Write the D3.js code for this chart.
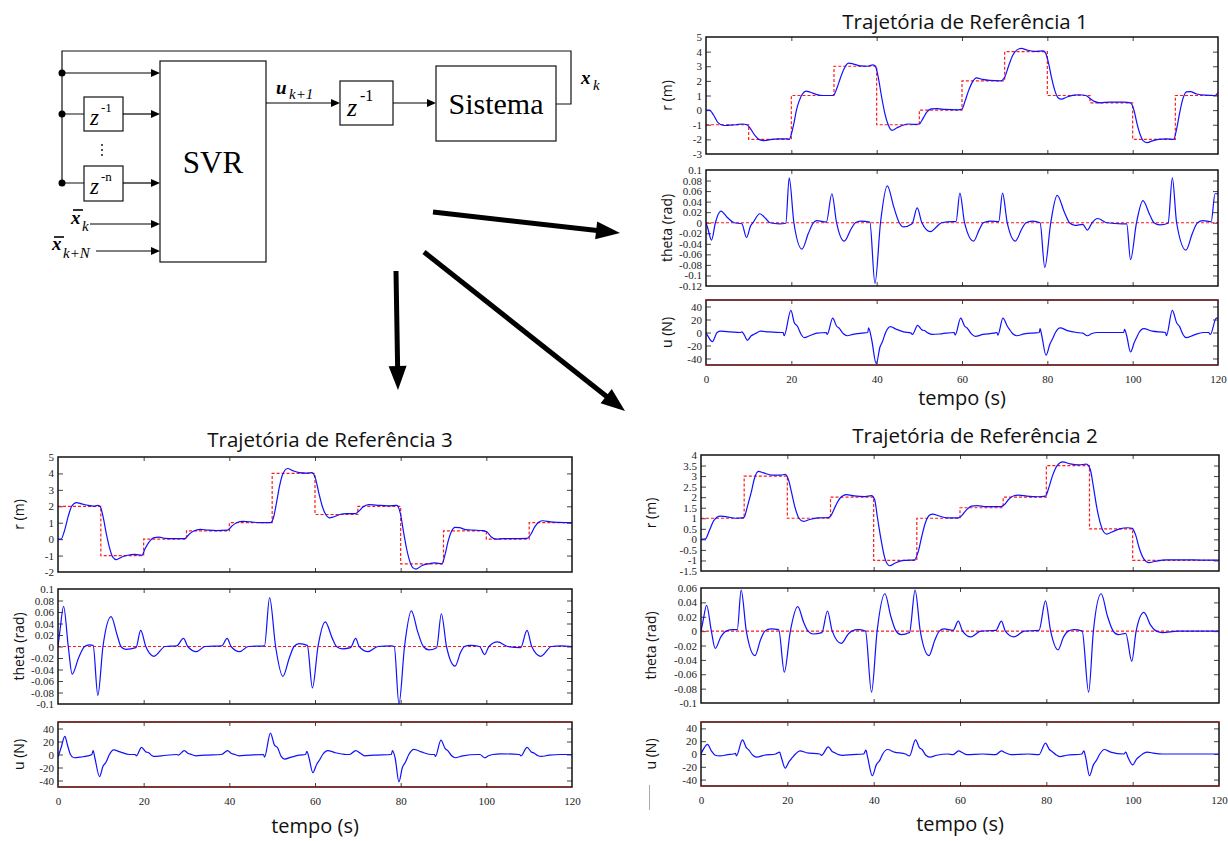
<!DOCTYPE html>
<html lang="pt">
<head>
<meta charset="utf-8">
<title>Trajetórias de Referência - SVR</title>
<script src="https://d3js.org/d3.v7.min.js"></script>
<style>
  body { margin: 0; background: #fff; }
  .tick line { stroke: #444; }
</style>
</head>
<body>
<svg id="fig" width="1228" height="841"></svg>
<script>
// ---------- data ----------
const stepTimes = [0, 10, 20, 30, 40, 50, 60, 70, 80, 90, 100, 110, 120];
const timeTicks = [0, 20, 40, 60, 80, 100, 120];

// reference levels for each 10 s interval (red dashed)
const ref1 = [-1, -2, 1, 3, -1, 0, 2, 4, 1, 0.5, -2, 1];
const ref2 = [1, 3, 1, 2, -1, 1, 1.5, 2, 3.5, 0.5, -1, -1];
const ref3 = [2, -1, 0, 0.5, 1, 4, 1.5, 2, -1.5, 0.5, 0, 1];

// y ticks
const rTicks1 = [-3, -2, -1, 0, 1, 2, 3, 4, 5];
const rTicks2 = [-1.5, -1, -0.5, 0, 0.5, 1, 1.5, 2, 2.5, 3, 3.5, 4];
const rTicks3 = [-2, -1, 0, 1, 2, 3, 4, 5];
const thTicks1 = [-0.12, -0.1, -0.08, -0.06, -0.04, -0.02, 0, 0.02, 0.04, 0.06, 0.08, 0.1];
const thTicks2 = [-0.1, -0.08, -0.06, -0.04, -0.02, 0, 0.02, 0.04, 0.06];
const thTicks3 = [-0.1, -0.08, -0.06, -0.04, -0.02, 0, 0.02, 0.04, 0.06, 0.08, 0.1];
const uTicks = [-40, -20, 0, 20, 40];
const uLimit = 50;

// trajectory 1 (time s, value)
const r1 = [[0,0],[0.8,0],[1.8,-0.35],[2.8,-0.85],[4.2,-1.05],[5.5,-1.03],[7,-1.0],[8.5,-0.95],[9.6,-1.0],[10.5,-1.3],[11.5,-1.75],[12.5,-2.02],[13.7,-2.08],[15,-2.02],[17,-1.97],[19,-1.97],[19.5,-2.0],[20,-1.65],[20.6,-0.9],[21.2,0.0],[21.8,0.6],[22.6,1.1],[23.4,1.3],[24.5,1.22],[26,1.06],[27.5,1.0],[29.5,1.0],[30.1,1.1],[30.8,1.6],[31.5,2.2],[32.3,2.8],[33.4,3.22],[34.6,3.15],[36.2,3.03],[37.8,3.0],[39.1,3.1],[39.7,3.0],[40.4,2.2],[41.1,1.0],[41.9,-0.2],[42.7,-1.0],[43.6,-1.38],[44.7,-1.22],[46,-1.05],[47.5,-0.95],[49,-0.98],[50,-0.95],[50.8,-0.6],[51.7,-0.15],[52.8,0.08],[54.2,0.1],[56,0.05],[59,0.02],[60,0.08],[60.7,0.6],[61.5,1.3],[62.4,1.9],[63.4,2.2],[64.8,2.1],[66.5,2.03],[69,2.0],[70,2.25],[70.9,3.0],[71.9,3.75],[72.9,4.12],[73.9,4.22],[75.3,4.1],[77,4.02],[79,4.05],[79.6,3.9],[80.3,3.2],[81,2.2],[81.8,1.3],[82.5,0.85],[83.3,0.75],[84.6,0.9],[86.2,1.02],[87.5,1.05],[89,1.0],[90,0.8],[91,0.6],[92.5,0.5],[94.5,0.55],[98,0.55],[99.5,0.5],[100.3,0.0],[101,-0.9],[101.8,-1.7],[102.5,-2.1],[103.4,-2.22],[104.6,-2.1],[106,-2.0],[108,-1.97],[109.6,-2.0],[110.3,-1.3],[111,-0.2],[111.8,0.8],[112.6,1.25],[113.5,1.27],[115,1.1],[117,1.02],[119.3,1.0],[120,1.2]];
const th1 = [[0,0],[0.4,-0.01],[1.3,-0.033],[2.2,0.0],[3.5,0.022],[5,0.01],[6.6,0.0],[8.4,-0.002],[9.5,-0.028],[10.5,-0.005],[11,0.0],[12.6,0.017],[14,0.008],[15,0.0],[17.2,-0.002],[18.7,-0.001],[19.5,0.085],[20.6,0.0],[22.5,-0.05],[24,-0.02],[25.2,0.0],[26,0.004],[28.2,0.001],[29.5,0.055],[30.6,0.0],[32.4,-0.035],[34,-0.012],[35,0.0],[36.2,0.003],[38.4,0.001],[39.6,-0.115],[40.9,0.0],[42.5,0.07],[44,0.03],[45.3,0.0],[46.3,-0.008],[48.3,-0.002],[49.5,0.028],[50.6,0.0],[52.6,-0.017],[54,-0.008],[55.2,0.0],[57.8,0.002],[58.6,0.002],[59.5,0.056],[60.6,0.0],[62.7,-0.035],[64,-0.014],[65,0.0],[66.6,0.003],[68.6,0.002],[69.5,0.056],[70.6,0.0],[72.5,-0.035],[74,-0.012],[75,0.0],[76.5,0.003],[78.3,0.0],[79.4,-0.085],[80.8,0.0],[82.3,0.052],[84,0.02],[85.2,0.0],[86.5,-0.005],[88.3,-0.003],[89.4,-0.014],[90.5,0.0],[91.8,0.008],[94,0.0],[97.5,-0.002],[98.6,-0.002],[99.5,-0.07],[100.9,0.0],[102.4,0.042],[104,0.015],[105,0.0],[106.4,-0.004],[108.3,-0.001],[109.3,0.085],[110.3,0.0],[112.5,-0.052],[114,-0.02],[115.2,0.0],[116.5,0.004],[118.4,0.002],[119.3,0.055],[120,0.055]];
const u1 = [[0,0],[0.5,-6],[1.5,-14],[2.6,0],[3.5,2],[5.7,1],[8,0],[8.4,1],[9,-4],[9.7,-12],[10.6,-5],[11.5,-2],[12.8,2],[14.6,1],[17.6,0],[18.1,0],[18.3,-5],[19.9,34],[20.7,15],[21.4,10],[22.3,-3],[23,-8],[24.3,-5],[26,-1],[28.2,0],[28.4,-3],[29.7,22],[30.6,10],[31.3,6],[32.2,-2],[33.1,-5],[34.4,-3],[36.6,-1],[37.9,0],[38.1,7],[38.8,-10],[39.9,-48],[40.8,-22],[41.3,-15],[42.1,0],[43.2,9],[44.6,5],[46.3,1],[48.1,-1],[48.4,-3],[49.6,11],[50.6,4],[51.2,3],[52.1,-1],[53,-3],[55.2,-2],[58.2,0],[58.4,-4],[59.7,22],[60.6,10],[61.2,7],[62.2,-2],[63.1,-6],[64.9,-3],[67.5,-1],[68.2,0],[68.4,-4],[69.6,22],[70.6,10],[71,6],[71.9,-2],[72.8,-5],[74.6,-2],[78.1,0],[78.3,6],[78.7,-5],[79.7,-35],[80.6,-18],[81.2,-10],[81.9,0],[83,7],[84.7,3],[86.9,0],[88.3,-1],[89.4,-5],[90.3,-2],[91.8,0],[97.9,0],[98.1,5],[98.6,-5],[99.5,-30],[100.4,-15],[100.9,-8],[101.5,0],[102.6,6],[104.6,2],[107.7,0],[107.9,-5],[109.3,34],[110.3,15],[111,9],[111.8,-3],[112.5,-8],[114.3,-4],[116.5,0],[117.8,0],[118.2,-3],[119.6,22],[120,22]];

// trajectory 2
const r2 = [[0,0],[1,0.02],[2,0.45],[3,0.9],[4.5,1.1],[6,1.07],[8,1.0],[9.5,1.02],[10,1.05],[10.8,1.6],[11.6,2.2],[12.4,2.9],[13.3,3.22],[14.5,3.15],[16.5,3.05],[18.5,3.05],[19.5,3.08],[20.3,2.8],[21,2.2],[21.8,1.5],[22.7,1.0],[23.7,0.85],[25,0.93],[27,1.02],[29.5,1.03],[30.3,1.2],[31.2,1.6],[32.2,1.95],[33.7,2.12],[35.5,2.06],[38,2.03],[39.5,2.07],[40.2,1.9],[40.9,1.0],[41.7,0.0],[42.6,-0.9],[43.7,-1.25],[45,-1.12],[47,-1.0],[49.5,-0.97],[50.3,-0.6],[51.1,0.1],[52,0.8],[53,1.15],[53.7,1.2],[55,1.12],[57,1.02],[59.7,1.02],[60.5,1.15],[61.5,1.4],[62.7,1.58],[64,1.6],[66,1.55],[69.5,1.55],[70.3,1.65],[71.3,1.9],[72.5,2.07],[73.6,2.1],[75.5,2.05],[78,2.02],[79.8,2.05],[80.5,2.4],[81.4,3.0],[82.5,3.5],[83.8,3.67],[85.5,3.58],[87.5,3.53],[89.3,3.57],[90.2,3.3],[90.9,2.5],[91.7,1.5],[92.6,0.7],[93.3,0.35],[94,0.25],[95.2,0.35],[97,0.5],[98.9,0.55],[99.9,0.52],[100.7,0.2],[101.5,-0.4],[102.5,-0.9],[103.8,-1.1],[105,-1.05],[107.8,-0.97],[112,-0.97],[116,-0.98],[120,-0.98]];
const th2 = [[0,0],[0.5,0.015],[1.3,0.036],[2.4,0],[3.3,-0.024],[4.6,-0.008],[5.8,0],[7.4,0.002],[8.4,0.002],[9.3,0.057],[10.5,0],[12.5,-0.034],[13.8,-0.012],[14.8,0],[16.2,0.003],[18,0.002],[19.3,-0.057],[20.7,0],[22.4,0.034],[23.8,0.012],[24.8,0],[26,-0.004],[28,-0.002],[29.3,0.028],[30.4,0],[32.5,-0.017],[34,-0.005],[34.9,0],[36.4,0.002],[38.1,0],[39.5,-0.085],[40.8,0],[42.6,0.052],[44,0.02],[45.2,0],[46.4,-0.005],[48.3,-0.002],[49.6,0.057],[50.8,0],[52.8,-0.034],[54.2,-0.012],[55.2,0],[56.3,0.003],[58.4,0.001],[59.6,0.014],[60.6,0],[62.5,-0.008],[64.8,0],[68.3,0.001],[69.6,0.014],[70.5,0],[72.5,-0.008],[74.9,0],[78.3,0.001],[79.8,0.042],[81,0],[82.7,-0.026],[84,-0.008],[85.1,0],[86.4,0.002],[88.3,0],[89.8,-0.085],[90.9,0],[92.7,0.052],[94.2,0.02],[95.5,0],[96.7,-0.005],[98.4,-0.003],[99.8,-0.042],[100.8,0],[102.6,0.026],[104.2,0.008],[105.5,0],[106.9,-0.002],[110.4,0],[120,0]];
const u2 = [[0,0],[0.6,8],[1.5,15],[2.4,5],[3.3,-2],[4.4,-3],[6.2,-1],[7.5,0],[8,1],[8.2,-3],[9.6,22],[10.5,10],[11.1,6],[12,-2],[12.9,-5],[14.6,-2],[17.3,0],[18.2,3],[18.6,-5],[19.5,-22],[20.4,-12],[21,-7],[21.9,0],[22.9,5],[24.4,2],[27.5,0],[27.9,-2],[29.5,11],[30.4,4],[31,2],[31.9,-1],[32.8,-2],[35,-1],[37.7,0],[38.2,6],[38.6,-5],[39.7,-34],[40.6,-17],[41.4,-10],[42.1,0],[43.2,7],[44.8,3],[47.4,0],[48.3,-3],[49.7,22],[50.6,10],[51.2,7],[52.1,-2],[53,-5],[54.6,-2],[57.2,0],[58.4,-1],[59.7,5],[60.6,2],[61.6,-1],[65.2,0],[68.3,-1],[69.6,5],[70.5,2],[71.8,-1],[75.8,0],[78.3,-1],[79.8,17],[80.7,7],[81.3,4],[82.2,-1],[83.1,-4],[84.7,-2],[88.2,0],[88.7,5],[89.1,-5],[90,-34],[90.9,-17],[91.6,-10],[92.4,0],[93.4,7],[94.9,3],[98,0],[98.4,3],[98.9,-5],[100,-17],[100.9,-8],[101.6,-4],[102.3,0],[103.3,3],[105.1,1],[106.9,0],[120,0]];

// trajectory 3
const r3 = [[0,0],[0.7,0],[1.5,0.5],[2.4,1.4],[3.2,2.0],[4.3,2.22],[5.5,2.15],[7,2.05],[8.5,2.0],[9.2,2.05],[9.8,2.0],[10.5,1.4],[11.3,0.3],[12,-0.5],[12.8,-1.1],[13.6,-1.25],[14.8,-1.1],[16.3,-0.98],[18,-0.93],[19.6,-0.98],[20.3,-0.6],[21.2,-0.2],[22.3,0.08],[23.6,0.12],[25,0.05],[27,0.03],[29.6,0.03],[30.6,0.3],[31.7,0.5],[33.2,0.6],[35,0.55],[37,0.52],[39.6,0.55],[40.6,0.8],[41.7,1.0],[43.2,1.08],[45,1.05],[47,1.0],[49.6,1.0],[50.3,1.3],[51,2.2],[51.7,3.2],[52.4,3.9],[53.6,4.3],[54.8,4.17],[56.3,4.05],[58,4.02],[59.3,4.05],[60.1,3.7],[60.9,2.8],[61.7,2.0],[62.5,1.5],[63.3,1.3],[64.3,1.35],[65.8,1.5],[67.3,1.55],[69.4,1.55],[70.2,1.7],[71.2,1.95],[72.5,2.1],[74.2,2.07],[77,2.02],[79.1,2.05],[79.9,1.6],[80.7,0.4],[81.4,-0.6],[82.2,-1.4],[82.9,-1.75],[83.6,-1.82],[85,-1.6],[86.5,-1.5],[88,-1.45],[89.6,-1.5],[90.4,-0.9],[91.1,-0.1],[91.9,0.5],[92.7,0.72],[93.7,0.7],[95.2,0.58],[97,0.55],[99.2,0.52],[100.1,0.45],[101.1,0.15],[102.3,0.0],[104,0.03],[106,0.03],[109.5,0.05],[110.4,0.3],[111.3,0.75],[112.3,1.05],[113.2,1.12],[115,1.05],[117,1.02],[120,1.0]];
const th3 = [[0,0],[0.5,0.03],[1.3,0.07],[2.4,0],[3.3,-0.048],[4.8,-0.02],[6.2,0],[7.3,0.003],[8.2,0.002],[9.3,-0.085],[10.5,0],[12.4,0.052],[13.8,0.02],[14.7,0],[15.8,-0.005],[18.2,-0.002],[19.3,0.028],[20.5,0],[22.4,-0.017],[25,0],[27.7,0.001],[29.3,0.014],[30.3,0],[32.3,-0.009],[34.3,0],[38.2,0.001],[39.5,0.014],[40.4,0],[42.4,-0.009],[44.4,0],[48.2,0.001],[49.4,0.085],[50.8,0],[52.5,-0.052],[54,-0.02],[55.1,0],[56.3,0.005],[58.2,0.002],[59.4,-0.072],[60.7,0],[62.4,0.043],[64,0.015],[65,0],[66.4,-0.004],[68.3,-0.002],[69.5,0.014],[70.3,0],[72.4,-0.009],[74.7,0],[77.8,0.001],[78.5,0],[79.6,-0.1],[80.9,0],[82.5,0.062],[84,0.025],[85.3,0],[86.6,-0.006],[88.4,-0.002],[89.5,0.057],[90.7,0],[92.7,-0.034],[94,-0.01],[94.9,0],[96.2,0.002],[98.4,0],[99.6,-0.014],[100.6,0],[102.6,0.008],[105,0],[108,-0.002],[109.5,0.028],[110.6,0],[112.7,-0.017],[115.2,0],[117.4,0.001],[120,0]];
const u3 = [[0,-4],[0.7,10],[1.6,28],[2.2,15],[2.9,0],[3.7,-5],[5.3,-4],[7,-2],[7.9,0],[8.2,6],[8.6,-5],[9.7,-34],[10.5,-18],[11.2,-12],[12,0],[13,7],[14.5,4],[16.7,0],[18,0],[18.3,-2],[19.5,11],[20.5,4],[21.1,3],[21.8,-1],[22.4,-3],[24.2,-2],[27.7,0],[28.1,-1],[29.5,6],[30.3,2],[31.2,0],[32.1,-2],[34.3,-1],[38.2,0],[39.6,6],[40.4,2],[41.3,0],[42.2,-2],[44.4,-1],[48,0],[48.2,-4],[49.6,33],[50.5,15],[51.3,10],[52.1,-3],[52.9,-7],[54.5,-4],[56.3,-1],[57.8,0],[58.1,5],[58.6,-5],[59.5,-28],[60.4,-15],[61.1,-8],[61.8,0],[63,6],[64.6,3],[67.3,0],[68.1,0],[69.5,6],[70.6,2],[71.6,-2],[73.8,-1],[77.8,0],[78.1,6],[78.7,-5],[79.6,-42],[80.4,-20],[81.1,-12],[81.9,0],[83.1,8],[84.8,4],[87,0],[87.9,0],[88.1,-3],[89.4,22],[90.4,9],[91,6],[91.9,-2],[92.7,-5],[94.5,-2],[98,0],[98.5,0],[99.6,-5],[100.5,-2],[101.5,0],[103.3,1],[107.7,0],[108.1,-2],[109.5,11],[110.5,4],[111.2,2],[112.1,-2],[112.8,-3],[114.7,-1],[117.4,0],[120,0]];

// ---------- drawing ----------
const svg = d3.select('#fig');
const defs = svg.append('defs');
let clipCount = 0;
const fmt = v => String(Math.round(v * 1000) / 1000);
const sansFont = '"Open Sans", "Noto Sans", sans-serif';
const serifFont = '"Liberation Serif", "DejaVu Serif", serif';

function stepPoints(levels) {
    const pts = levels.map((v, i) => [stepTimes[i], v]);
    pts.push([stepTimes[stepTimes.length - 1], levels[levels.length - 1]]);
    return pts;
}

function panel(box, yDomain, yTicks, blue, red, redCurve, yLabel, labelX, showTime) {
    const x = d3.scaleLinear().domain([0, 120]).range([box.x0, box.x1]);
    const y = d3.scaleLinear().domain(yDomain).range([box.y1, box.y0]);
    const g = svg.append('g');

    // ticks, gnuplot style (inside, mirrored)
    const left = g.append('g').attr('transform', `translate(${box.x0},0)`)
        .call(d3.axisLeft(y).tickValues(yTicks).tickSizeInner(-5).tickSizeOuter(0).tickPadding(4).tickFormat(fmt));
    const right = g.append('g').attr('transform', `translate(${box.x1},0)`)
        .call(d3.axisRight(y).tickValues(yTicks).tickSizeInner(-5).tickSizeOuter(0).tickFormat(''));
    const bottom = g.append('g').attr('transform', `translate(0,${box.y1})`)
        .call(d3.axisBottom(x).tickValues(timeTicks).tickSizeInner(-4).tickSizeOuter(0).tickPadding(10)
            .tickFormat(showTime ? d3.format('d') : ''));
    const top = g.append('g').attr('transform', `translate(0,${box.y0})`)
        .call(d3.axisTop(x).tickValues(timeTicks).tickSizeInner(-4).tickSizeOuter(0).tickFormat(''));
    [left, right, bottom, top].forEach(a => {
        a.select('.domain').remove();
        a.selectAll('.tick text')
            .style('font-family', serifFont)
            .style('font-size', '11px')
            .attr('fill', '#222');
    });
    // drop ticks lying on the box edge
    [left, right].forEach(a => a.selectAll('.tick line')
        .filter(d => d === yDomain[0] || d === yDomain[1]).remove());
    [bottom, top].forEach(a => a.selectAll('.tick line')
        .filter(d => d === 0 || d === 120).remove());

    const id = 'clip' + (clipCount++);
    defs.append('clipPath').attr('id', id).append('rect')
        .attr('x', box.x0).attr('y', box.y0)
        .attr('width', box.x1 - box.x0).attr('height', box.y1 - box.y0);
    const plot = g.append('g').attr('clip-path', `url(#${id})`);

    const redLine = d3.line().x(d => x(d[0])).y(d => y(d[1])).curve(redCurve);
    red.forEach(series => {
        plot.append('path')
            .datum(series)
            .attr('d', redLine)
            .attr('fill', 'none')
            .attr('stroke', '#ff1a1a')
            .attr('stroke-width', 1.2)
            .attr('stroke-dasharray', '3,2');
    });

    plot.append('path')
        .datum(blue)
        .attr('d', d3.line().x(d => x(d[0])).y(d => y(d[1])).curve(d3.curveMonotoneX))
        .attr('fill', 'none')
        .attr('stroke', '#1010ff')
        .attr('stroke-width', 1.2);

    g.append('rect')
        .attr('x', box.x0).attr('y', box.y0)
        .attr('width', box.x1 - box.x0).attr('height', box.y1 - box.y0)
        .attr('fill', 'none').attr('stroke', '#111').attr('stroke-width', 1.5);

    // actuator limits sit on the box edges
    if (box.limits) {
        box.limits.forEach(v => {
            g.append('line')
                .attr('x1', box.x0).attr('x2', box.x1)
                .attr('y1', y(v)).attr('y2', y(v))
                .attr('stroke', '#e01010').attr('stroke-width', 1.2)
                .attr('stroke-dasharray', '3,2');
        });
    }

    g.append('text')
        .attr('transform', `translate(${labelX},${(box.y0 + box.y1) / 2}) rotate(-90)`)
        .attr('text-anchor', 'middle')
        .attr('dominant-baseline', 'middle')
        .style('font-family', sansFont)
        .style('font-size', '14px')
        .attr('fill', '#111')
        .text(yLabel);
}

function chart(cfg, ref, rTicks, rDom, thTicks, thDom, r, th, u) {
    svg.append('text')
        .attr('x', cfg.titleX).attr('y', cfg.titleY)
        .attr('text-anchor', 'middle')
        .style('font-family', sansFont).style('font-size', '20.5px')
        .attr('fill', '#111')
        .text(cfg.title);

    const x0 = cfg.x0, x1 = cfg.x1;
    panel({x0, x1, y0: cfg.r[0], y1: cfg.r[1]}, rDom, rTicks, r,
        [stepPoints(ref)], d3.curveStepAfter, 'r (m)', cfg.labelX, false);
    panel({x0, x1, y0: cfg.th[0], y1: cfg.th[1]}, thDom, thTicks, th,
        [[[0, 0], [120, 0]]], d3.curveLinear, 'theta (rad)', cfg.labelX, false);
    panel({x0, x1, y0: cfg.u[0], y1: cfg.u[1], limits: [uLimit, -uLimit]}, [-uLimit, uLimit], uTicks, u,
        [], d3.curveLinear, 'u (N)', cfg.labelX, true);

    svg.append('text')
        .attr('x', (x0 + x1) / 2).attr('y', cfg.tempoY)
        .attr('text-anchor', 'middle')
        .style('font-family', sansFont).style('font-size', '20px')
        .attr('fill', '#111')
        .text('tempo (s)');
}

chart({title: 'Trajetória de Referência 1', titleX: 965, titleY: 29, x0: 706, x1: 1218,
       r: [37, 154], th: [170, 286], u: [300, 365], labelX: 668, tempoY: 405},
      ref1, rTicks1, [-3, 5], thTicks1, [-0.12, 0.1], r1, th1, u1);
chart({title: 'Trajetória de Referência 3', titleX: 330, titleY: 447, x0: 58, x1: 572,
       r: [457, 572], th: [589, 704], u: [722, 787], labelX: 20, tempoY: 833},
      ref3, rTicks3, [-2, 5], thTicks3, [-0.1, 0.1], r3, th3, u3);
chart({title: 'Trajetória de Referência 2', titleX: 975, titleY: 443, x0: 701, x1: 1219,
       r: [455, 571], th: [588, 703], u: [722, 786], labelX: 652, tempoY: 831},
      ref2, rTicks2, [-1.5, 4], thTicks2, [-0.1, 0.06], r2, th2, u2);

// stray scan mark left of the lower-right plot
svg.append('line').attr('x1', 649.5).attr('x2', 649.5).attr('y1', 785).attr('y2', 810)
    .attr('stroke', '#aaa').attr('stroke-width', 1);

// ---------- block diagram ----------
const bd = svg.append('g').attr('fill', 'none').attr('stroke', '#111').attr('stroke-width', 1.2);

function arrow(x1, y1, x2, y2, hl, hw, sw) {
    const dx = x2 - x1, dy = y2 - y1, L = Math.hypot(dx, dy);
    const ux = dx / L, uy = dy / L;
    const bx = x2 - ux * hl, by = y2 - uy * hl;
    svg.append('line')
        .attr('x1', x1).attr('y1', y1).attr('x2', bx + ux).attr('y2', by + uy)
        .attr('stroke', '#000').attr('stroke-width', sw);
    svg.append('polygon')
        .attr('points', [[x2, y2], [bx - uy * hw, by + ux * hw], [bx + uy * hw, by - ux * hw]].map(p => p.join(',')).join(' '))
        .attr('fill', '#000');
}

// boxes
bd.append('rect').attr('x', 160).attr('y', 61).attr('width', 106).attr('height', 201);
bd.append('rect').attr('x', 84).attr('y', 97).attr('width', 39).attr('height', 34);
bd.append('rect').attr('x', 84).attr('y', 166).attr('width', 39).attr('height', 35);
bd.append('rect').attr('x', 340).attr('y', 81).attr('width', 53).attr('height', 44);
bd.append('rect').attr('x', 436).attr('y', 66).attr('width', 120).attr('height', 75);

// feedback loop and branch lines
bd.append('path').attr('d', 'M556,104 H571 V51 H62 V183');
bd.append('path').attr('d', 'M62,114 H84 M62,183 H84');
[73, 114, 183].forEach(yy => svg.append('circle').attr('cx', 62).attr('cy', yy).attr('r', 3.5).attr('fill', '#000'));
[145, 150, 155].forEach(yy => svg.append('circle').attr('cx', 102).attr('cy', yy).attr('r', 0.9).attr('fill', '#000'));

arrow(62, 73, 160, 73, 9, 4, 1.2);
arrow(123, 114, 160, 114, 9, 4, 1.2);
arrow(123, 183, 160, 183, 9, 4, 1.2);
arrow(90, 224, 160, 224, 9, 4, 1.2);
arrow(96, 251, 160, 251, 9, 4, 1.2);
arrow(266, 103, 340, 103, 9, 4, 1.2);
arrow(393, 103, 436, 103, 9, 4, 1.2);

// thick arrows toward the plots
arrow(433, 212, 620, 233, 24, 9, 5);
arrow(396, 271, 398, 390, 24, 9, 5);
arrow(424, 252, 625, 411, 24, 9, 5);

function serif(x, y, size, txt, opts = {}) {
    const t = svg.append('text').attr('x', x).attr('y', y)
        .style('font-family', serifFont).style('font-size', size + 'px')
        .attr('fill', '#000');
    if (opts.italic) t.style('font-style', 'italic');
    if (opts.bold) t.style('font-weight', 'bold');
    if (opts.anchor) t.attr('text-anchor', opts.anchor);
    t.text(txt);
    return t;
}

serif(213, 173, 31, 'SVR', {anchor: 'middle'});
serif(496, 114, 30, 'Sistema', {anchor: 'middle'});
// z^-1 / z^-n blocks
serif(90, 125, 23, 'z', {italic: true});
serif(101, 112, 13, '-1');
serif(90, 194, 23, 'z', {italic: true});
serif(101, 181, 13, '-n');
serif(347, 116, 26, 'z', {italic: true});
serif(360, 101, 16, '-1');
// signals
serif(276, 94, 19, 'u', {italic: true, bold: true});
serif(289, 99, 15, 'k+1', {italic: true});
serif(581, 84, 19, 'x', {italic: true, bold: true});
serif(593, 90, 15, 'k', {italic: true});
serif(71, 224, 19, 'x', {italic: true, bold: true});
serif(82, 231, 15, 'k', {italic: true});
serif(52, 250, 19, 'x', {italic: true, bold: true});
serif(63, 258, 15, 'k+N', {italic: true});
svg.append('line').attr('x1', 73).attr('x2', 83).attr('y1', 210).attr('y2', 210).attr('stroke', '#000').attr('stroke-width', 1.6);
svg.append('line').attr('x1', 54).attr('x2', 64).attr('y1', 237).attr('y2', 237).attr('stroke', '#000').attr('stroke-width', 1.6);
</script>
</body>
</html>
